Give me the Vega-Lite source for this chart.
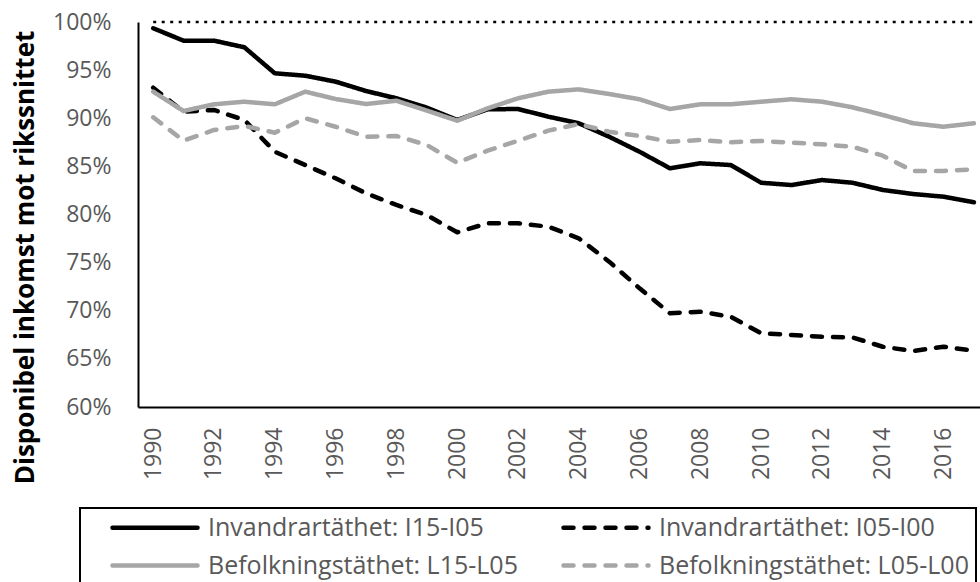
{
  "$schema": "https://vega.github.io/schema/vega-lite/v6.json",
  "autosize": {"type": "none"},
  "padding": {"left": 138, "top": 22, "right": 0, "bottom": 175},
  "width": 842,
  "height": 385,
  "background": "white",
  "config": {"view": {"stroke": null}, "font": "Open Sans"},
  "datasets": {
    "ref": [{"from": 1990, "to": 2017, "ref": 100}],
    "series": [
      {"year": 1990, "serie": "Invandrartäthet: I15-I05", "v": 99.35},
      {"year": 1991, "serie": "Invandrartäthet: I15-I05", "v": 98.06},
      {"year": 1992, "serie": "Invandrartäthet: I15-I05", "v": 98.06},
      {"year": 1993, "serie": "Invandrartäthet: I15-I05", "v": 97.37},
      {"year": 1994, "serie": "Invandrartäthet: I15-I05", "v": 94.67},
      {"year": 1995, "serie": "Invandrartäthet: I15-I05", "v": 94.42},
      {"year": 1996, "serie": "Invandrartäthet: I15-I05", "v": 93.8},
      {"year": 1997, "serie": "Invandrartäthet: I15-I05", "v": 92.83},
      {"year": 1998, "serie": "Invandrartäthet: I15-I05", "v": 92.07},
      {"year": 1999, "serie": "Invandrartäthet: I15-I05", "v": 91.1},
      {"year": 2000, "serie": "Invandrartäthet: I15-I05", "v": 89.82},
      {"year": 2001, "serie": "Invandrartäthet: I15-I05", "v": 90.93},
      {"year": 2002, "serie": "Invandrartäthet: I15-I05", "v": 90.96},
      {"year": 2003, "serie": "Invandrartäthet: I15-I05", "v": 90.16},
      {"year": 2004, "serie": "Invandrartäthet: I15-I05", "v": 89.48},
      {"year": 2005, "serie": "Invandrartäthet: I15-I05", "v": 88.08},
      {"year": 2006, "serie": "Invandrartäthet: I15-I05", "v": 86.52},
      {"year": 2007, "serie": "Invandrartäthet: I15-I05", "v": 84.8},
      {"year": 2008, "serie": "Invandrartäthet: I15-I05", "v": 85.32},
      {"year": 2009, "serie": "Invandrartäthet: I15-I05", "v": 85.14},
      {"year": 2010, "serie": "Invandrartäthet: I15-I05", "v": 83.3},
      {"year": 2011, "serie": "Invandrartäthet: I15-I05", "v": 83.06},
      {"year": 2012, "serie": "Invandrartäthet: I15-I05", "v": 83.58},
      {"year": 2013, "serie": "Invandrartäthet: I15-I05", "v": 83.3},
      {"year": 2014, "serie": "Invandrartäthet: I15-I05", "v": 82.55},
      {"year": 2015, "serie": "Invandrartäthet: I15-I05", "v": 82.13},
      {"year": 2016, "serie": "Invandrartäthet: I15-I05", "v": 81.85},
      {"year": 2017, "serie": "Invandrartäthet: I15-I05", "v": 81.27},
      {"year": 1990, "serie": "Invandrartäthet: I05-I00", "v": 93.17},
      {"year": 1991, "serie": "Invandrartäthet: I05-I00", "v": 90.68},
      {"year": 1992, "serie": "Invandrartäthet: I05-I00", "v": 90.86},
      {"year": 1993, "serie": "Invandrartäthet: I05-I00", "v": 89.82},
      {"year": 1994, "serie": "Invandrartäthet: I05-I00", "v": 86.52},
      {"year": 1995, "serie": "Invandrartäthet: I05-I00", "v": 85.14},
      {"year": 1996, "serie": "Invandrartäthet: I05-I00", "v": 83.76},
      {"year": 1997, "serie": "Invandrartäthet: I05-I00", "v": 82.2},
      {"year": 1998, "serie": "Invandrartäthet: I05-I00", "v": 80.99},
      {"year": 1999, "serie": "Invandrartäthet: I05-I00", "v": 79.95},
      {"year": 2000, "serie": "Invandrartäthet: I05-I00", "v": 78.15},
      {"year": 2001, "serie": "Invandrartäthet: I05-I00", "v": 79.09},
      {"year": 2002, "serie": "Invandrartäthet: I05-I00", "v": 79.09},
      {"year": 2003, "serie": "Invandrartäthet: I05-I00", "v": 78.73},
      {"year": 2004, "serie": "Invandrartäthet: I05-I00", "v": 77.53},
      {"year": 2005, "serie": "Invandrartäthet: I05-I00", "v": 75.1},
      {"year": 2006, "serie": "Invandrartäthet: I05-I00", "v": 72.33},
      {"year": 2007, "serie": "Invandrartäthet: I05-I00", "v": 69.74},
      {"year": 2008, "serie": "Invandrartäthet: I05-I00", "v": 69.9},
      {"year": 2009, "serie": "Invandrartäthet: I05-I00", "v": 69.38},
      {"year": 2010, "serie": "Invandrartäthet: I05-I00", "v": 67.66},
      {"year": 2011, "serie": "Invandrartäthet: I05-I00", "v": 67.48},
      {"year": 2012, "serie": "Invandrartäthet: I05-I00", "v": 67.3},
      {"year": 2013, "serie": "Invandrartäthet: I05-I00", "v": 67.24},
      {"year": 2014, "serie": "Invandrartäthet: I05-I00", "v": 66.26},
      {"year": 2015, "serie": "Invandrartäthet: I05-I00", "v": 65.82},
      {"year": 2016, "serie": "Invandrartäthet: I05-I00", "v": 66.26},
      {"year": 2017, "serie": "Invandrartäthet: I05-I00", "v": 65.85},
      {"year": 1990, "serie": "Befolkningstäthet: L15-L05", "v": 92.76},
      {"year": 1991, "serie": "Befolkningstäthet: L15-L05", "v": 90.75},
      {"year": 1992, "serie": "Befolkningstäthet: L15-L05", "v": 91.45},
      {"year": 1993, "serie": "Befolkningstäthet: L15-L05", "v": 91.72},
      {"year": 1994, "serie": "Befolkningstäthet: L15-L05", "v": 91.45},
      {"year": 1995, "serie": "Befolkningstäthet: L15-L05", "v": 92.76},
      {"year": 1996, "serie": "Befolkningstäthet: L15-L05", "v": 92.0},
      {"year": 1997, "serie": "Befolkningstäthet: L15-L05", "v": 91.48},
      {"year": 1998, "serie": "Befolkningstäthet: L15-L05", "v": 91.82},
      {"year": 1999, "serie": "Befolkningstäthet: L15-L05", "v": 90.8},
      {"year": 2000, "serie": "Befolkningstäthet: L15-L05", "v": 89.75},
      {"year": 2001, "serie": "Befolkningstäthet: L15-L05", "v": 91.03},
      {"year": 2002, "serie": "Befolkningstäthet: L15-L05", "v": 92.07},
      {"year": 2003, "serie": "Befolkningstäthet: L15-L05", "v": 92.76},
      {"year": 2004, "serie": "Befolkningstäthet: L15-L05", "v": 93.0},
      {"year": 2005, "serie": "Befolkningstäthet: L15-L05", "v": 92.52},
      {"year": 2006, "serie": "Befolkningstäthet: L15-L05", "v": 91.97},
      {"year": 2007, "serie": "Befolkningstäthet: L15-L05", "v": 90.96},
      {"year": 2008, "serie": "Befolkningstäthet: L15-L05", "v": 91.45},
      {"year": 2009, "serie": "Befolkningstäthet: L15-L05", "v": 91.45},
      {"year": 2010, "serie": "Befolkningstäthet: L15-L05", "v": 91.72},
      {"year": 2011, "serie": "Befolkningstäthet: L15-L05", "v": 91.97},
      {"year": 2012, "serie": "Befolkningstäthet: L15-L05", "v": 91.72},
      {"year": 2013, "serie": "Befolkningstäthet: L15-L05", "v": 91.14},
      {"year": 2014, "serie": "Befolkningstäthet: L15-L05", "v": 90.34},
      {"year": 2015, "serie": "Befolkningstäthet: L15-L05", "v": 89.48},
      {"year": 2016, "serie": "Befolkningstäthet: L15-L05", "v": 89.12},
      {"year": 2017, "serie": "Befolkningstäthet: L15-L05", "v": 89.48},
      {"year": 1990, "serie": "Befolkningstäthet: L05-L00", "v": 90.1},
      {"year": 1991, "serie": "Befolkningstäthet: L05-L00", "v": 87.67},
      {"year": 1992, "serie": "Befolkningstäthet: L05-L00", "v": 88.78},
      {"year": 1993, "serie": "Befolkningstäthet: L05-L00", "v": 89.2},
      {"year": 1994, "serie": "Befolkningstäthet: L05-L00", "v": 88.5},
      {"year": 1995, "serie": "Befolkningstäthet: L05-L00", "v": 90.0},
      {"year": 1996, "serie": "Befolkningstäthet: L05-L00", "v": 89.12},
      {"year": 1997, "serie": "Befolkningstäthet: L05-L00", "v": 88.08},
      {"year": 1998, "serie": "Befolkningstäthet: L05-L00", "v": 88.16},
      {"year": 1999, "serie": "Befolkningstäthet: L05-L00", "v": 87.22},
      {"year": 2000, "serie": "Befolkningstäthet: L05-L00", "v": 85.38},
      {"year": 2001, "serie": "Befolkningstäthet: L05-L00", "v": 86.63},
      {"year": 2002, "serie": "Befolkningstäthet: L05-L00", "v": 87.67},
      {"year": 2003, "serie": "Befolkningstäthet: L05-L00", "v": 88.71},
      {"year": 2004, "serie": "Befolkningstäthet: L05-L00", "v": 89.4},
      {"year": 2005, "serie": "Befolkningstäthet: L05-L00", "v": 88.6},
      {"year": 2006, "serie": "Befolkningstäthet: L05-L00", "v": 88.16},
      {"year": 2007, "serie": "Befolkningstäthet: L05-L00", "v": 87.56},
      {"year": 2008, "serie": "Befolkningstäthet: L05-L00", "v": 87.74},
      {"year": 2009, "serie": "Befolkningstäthet: L05-L00", "v": 87.5},
      {"year": 2010, "serie": "Befolkningstäthet: L05-L00", "v": 87.64},
      {"year": 2011, "serie": "Befolkningstäthet: L05-L00", "v": 87.46},
      {"year": 2012, "serie": "Befolkningstäthet: L05-L00", "v": 87.29},
      {"year": 2013, "serie": "Befolkningstäthet: L05-L00", "v": 87.04},
      {"year": 2014, "serie": "Befolkningstäthet: L05-L00", "v": 86.11},
      {"year": 2015, "serie": "Befolkningstäthet: L05-L00", "v": 84.52},
      {"year": 2016, "serie": "Befolkningstäthet: L05-L00", "v": 84.52},
      {"year": 2017, "serie": "Befolkningstäthet: L05-L00", "v": 84.7}
    ]
  },
  "layer": [
    {
      "data": {"name": "series"},
      "mark": {"type": "line", "strokeWidth": 4.5, "strokeCap": "round", "strokeJoin": "round"},
      "encoding": {
        "x": {
          "field": "year", "type": "quantitative", "title": null,
          "scale": {"domain": [1989.5, 2017.2], "nice": false, "zero": false},
          "axis": {
            "values": [1990, 1992, 1994, 1996, 1998, 2000, 2002, 2004, 2006, 2008, 2010, 2012, 2014, 2016],
            "format": "d", "title": null, "labelAngle": 270, "labelAlign": "right", "labelBaseline": "middle",
            "labelPadding": 20, "ticks": false, "tickSize": 0, "grid": false,
            "domainColor": "black", "domainWidth": 2,
            "labelFont": "Open Sans", "labelFontSize": 23, "labelColor": "#595959",
            "labelFlush": false, "labelOverlap": false
          }
        },
        "y": {
          "field": "v", "type": "quantitative", "title": "Disponibel inkomst mot rikssnittet",
          "scale": {"domain": [60, 100], "nice": false, "zero": false},
          "axis": {
            "values": [60, 65, 70, 75, 80, 85, 90, 95, 100],
            "labelExpr": "datum.value + '%'",
            "title": "Disponibel inkomst mot rikssnittet",
            "titleFont": "Open Sans", "titleFontSize": 26, "titleFontWeight": "bold", "titleColor": "black",
            "titleX": -105, "titleY": 235, "titleAngle": 270, "titleAlign": "center", "titleBaseline": "alphabetic",
            "labelPadding": 27, "ticks": false, "tickSize": 0, "grid": false,
            "domainColor": "black", "domainWidth": 2,
            "labelFont": "Open Sans", "labelFontSize": 23, "labelColor": "#595959", "labelFlush": false
          }
        },
        "color": {
          "field": "serie", "type": "nominal",
          "scale": {
            "domain": ["Invandrartäthet: I15-I05", "Invandrartäthet: I05-I00", "Befolkningstäthet: L15-L05", "Befolkningstäthet: L05-L00"],
            "range": ["#000000", "#000000", "#a6a6a6", "#a6a6a6"]
          },
          "legend": {
            "title": null, "orient": "none", "legendX": -58, "legendY": 486, "columns": 2, "direction": "horizontal",
            "symbolType": "stroke", "symbolSize": 7225, "symbolStrokeWidth": 4.5, "symbolOffset": 23,
            "labelOffset": 8, "labelFont": "Open Sans", "labelFontSize": 25, "labelColor": "#595959", "labelLimit": 600,
            "clipHeight": 25, "rowPadding": 12, "columnPadding": 20, "padding": 7, "strokeColor": "black",
            "encode": {
              "symbols": {"update": {"strokeCap": {"value": "round"}}},
              "legend": {"update": {"strokeWidth": {"value": 2}}}
            }
          }
        },
        "strokeDash": {
          "field": "serie", "type": "nominal",
          "scale": {
            "domain": ["Invandrartäthet: I15-I05", "Invandrartäthet: I05-I00", "Befolkningstäthet: L15-L05", "Befolkningstäthet: L05-L00"],
            "range": [[1, 0], [10, 11], [1, 0], [10, 11]]
          },
          "legend": {
            "title": null, "orient": "none", "legendX": -58, "legendY": 486, "columns": 2, "direction": "horizontal",
            "symbolType": "stroke", "symbolSize": 7225, "symbolStrokeWidth": 4.5, "symbolOffset": 23,
            "labelOffset": 8, "labelFont": "Open Sans", "labelFontSize": 25, "labelColor": "#595959", "labelLimit": 600,
            "clipHeight": 25, "rowPadding": 12, "columnPadding": 20, "padding": 7, "strokeColor": "black",
            "encode": {
              "symbols": {"update": {"strokeCap": {"value": "round"}}},
              "legend": {"update": {"strokeWidth": {"value": 2}}}
            }
          }
        }
      }
    },
    {
      "data": {"name": "ref"},
      "mark": {"type": "rule", "strokeDash": [3, 5.5], "strokeWidth": 2.5, "color": "black"},
      "encoding": {
        "x": {"field": "from", "type": "quantitative", "title": null},
        "x2": {"field": "to"},
        "y": {"field": "ref", "type": "quantitative", "title": "Disponibel inkomst mot rikssnittet"}
      }
    }
  ]
}
